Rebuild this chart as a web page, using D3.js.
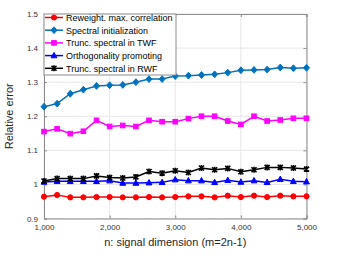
<!DOCTYPE html>
<html lang="en">
<head>
  <meta charset="UTF-8" />
  <title>Relative error vs signal dimension</title>
  <script src="https://d3js.org/d3.v7.min.js"></script>
  <style>
    body { margin: 0; background: #fff; }
    text { font-family: "Liberation Sans", Arial, sans-serif; }
  </style>
</head>
<body>
  <div id="chart"></div>
  <script>
    // ----- Data -----
    const nValues = [1000, 1200, 1400, 1600, 1800, 2000, 2200, 2400, 2600, 2800, 3000,
                     3200, 3400, 3600, 3800, 4000, 4200, 4400, 4600, 4800, 5000];

    const reweighted = [0.964, 0.969, 0.962, 0.962, 0.963, 0.963, 0.962, 0.962, 0.963, 0.962, 0.963,
                        0.965, 0.965, 0.962, 0.967, 0.963, 0.967, 0.963, 0.967, 0.965, 0.965];
    const spectral   = [1.228, 1.237, 1.266, 1.278, 1.289, 1.291, 1.292, 1.300, 1.309, 1.309, 1.318,
                        1.319, 1.321, 1.323, 1.328, 1.335, 1.336, 1.337, 1.343, 1.341, 1.342];
    const truncTWF   = [1.155, 1.163, 1.149, 1.156, 1.188, 1.170, 1.173, 1.170, 1.188, 1.184, 1.184,
                        1.193, 1.200, 1.200, 1.186, 1.176, 1.200, 1.186, 1.189, 1.194, 1.194];
    const orthogonal = [1.007, 1.009, 1.009, 1.009, 1.009, 1.011, 1.004, 1.004, 1.005, 1.006, 1.014,
                        1.011, 1.011, 1.006, 1.012, 1.007, 1.011, 1.006, 1.015, 1.009, 1.008];
    const truncRWF   = [1.010, 1.017, 1.017, 1.017, 1.025, 1.020, 1.019, 1.022, 1.038, 1.033, 1.040,
                        1.035, 1.048, 1.043, 1.047, 1.037, 1.043, 1.050, 1.050, 1.048, 1.045];

    const seriesNames = ["Reweight. max. correlation", "Spectral initialization",
                         "Trunc. spectral in TWF", "Orthogonality promoting", "Trunc. spectral in RWF"];
    const xTicks = [1000, 2000, 3000, 4000, 5000];
    const yTicks = [0.9, 1, 1.1, 1.2, 1.3, 1.4, 1.5];

    const series = [
      { name: seriesNames[0], values: reweighted, color: "#ff0000", marker: "circle" },
      { name: seriesNames[1], values: spectral,   color: "#0072bd", marker: "diamond" },
      { name: seriesNames[2], values: truncTWF,   color: "#ff00ff", marker: "square" },
      { name: seriesNames[3], values: orthogonal, color: "#0000ff", marker: "triangle" },
      { name: seriesNames[4], values: truncRWF,   color: "#000000", marker: "cross" }
    ];

    // ----- Setup -----
    const width = 339, height = 254;
    const margin = { top: 14, right: 32.5, bottom: 35.5, left: 44 };
    const iw = width - margin.left - margin.right;
    const ih = height - margin.top - margin.bottom;

    const svg = d3.select("#chart").append("svg")
      .attr("width", width).attr("height", height);
    const g = svg.append("g").attr("transform", `translate(${margin.left},${margin.top})`);

    const x = d3.scaleLinear().domain([1000, 5000]).range([0, iw]);
    const y = d3.scaleLinear().domain([0.9, 1.5]).range([ih, 0]);

    // ----- Grid -----
    g.append("g").selectAll("line").data(xTicks).join("line")
      .attr("x1", d => x(d)).attr("x2", d => x(d)).attr("y1", 0).attr("y2", ih)
      .attr("stroke", "#e6e6e6");
    g.append("g").selectAll("line").data(yTicks).join("line")
      .attr("x1", 0).attr("x2", iw).attr("y1", d => y(d)).attr("y2", d => y(d))
      .attr("stroke", "#e6e6e6");

    // ----- Axes -----
    const axisColor = "#8c8c8c";
    const xAxis = g.append("g").attr("transform", `translate(0,${ih})`)
      .call(d3.axisBottom(x).tickValues(xTicks).tickSize(-3).tickPadding(6).tickFormat(d3.format(",")));
    const yAxis = g.append("g")
      .call(d3.axisLeft(y).tickValues(yTicks).tickSize(-3).tickPadding(6).tickFormat(d => d));
    g.append("g").attr("transform", `translate(${iw},0)`)
      .call(d3.axisRight(y).tickValues(yTicks).tickSize(-3).tickFormat(""));
    g.append("g")
      .call(d3.axisTop(x).tickValues(xTicks).tickSize(-3).tickFormat(""));
    g.selectAll(".domain, .tick line").attr("stroke", axisColor);
    g.selectAll(".tick text").attr("fill", "#333").attr("font-size", "8px")
      .attr("font-family", "Liberation Sans, Arial, sans-serif");

    // ----- Axis labels -----
    svg.append("text")
      .attr("x", margin.left + iw / 2).attr("y", 246)
      .attr("text-anchor", "middle").attr("font-size", "11px").attr("fill", "#262626")
      .text("n: signal dimension (m=2n-1)");
    svg.append("text")
      .attr("transform", `translate(13,${margin.top + ih / 2}) rotate(-90)`)
      .attr("text-anchor", "middle").attr("font-size", "11px").attr("fill", "#262626")
      .text("Relative error");

    // ----- Markers -----
    function drawMarker(sel, type, color) {
      if (type === "circle") {
        sel.append("circle").attr("r", 2.6).attr("fill", color).attr("stroke", color);
      } else if (type === "diamond") {
        sel.append("path").attr("d", "M0,-3.4L3,0L0,3.4L-3,0Z").attr("fill", color).attr("stroke", color);
      } else if (type === "square") {
        sel.append("rect").attr("x", -2.3).attr("y", -2.3).attr("width", 4.6).attr("height", 4.6)
          .attr("fill", color).attr("stroke", color);
      } else if (type === "triangle") {
        sel.append("path").attr("d", "M0,-3.2L2.9,2.2L-2.9,2.2Z").attr("fill", color).attr("stroke", color);
      } else if (type === "cross") {
        sel.append("path").attr("d", "M-2.5,-2.5L2.5,2.5M-2.5,2.5L2.5,-2.5M0,-3V3")
          .attr("stroke", color).attr("stroke-width", 1.6).attr("fill", "none");
      }
    }

    // ----- Lines -----
    const line = d3.line().x((d, i) => x(nValues[i])).y(d => y(d));
    series.forEach(s => {
      g.append("path").datum(s.values)
        .attr("d", line).attr("fill", "none")
        .attr("stroke", s.color).attr("stroke-width", 1.5);
      g.append("g").selectAll("g").data(s.values).join("g")
        .attr("transform", (d, i) => `translate(${x(nValues[i])},${y(d)})`)
        .each(function () { drawMarker(d3.select(this), s.marker, s.color); });
    });

    // ----- Legend -----
    const legend = g.append("g");
    legend.append("rect")
      .attr("x", 0).attr("y", 0).attr("width", 132).attr("height", 61)
      .attr("fill", "#fff").attr("stroke", axisColor);
    series.forEach((s, i) => {
      const ly = 3.5 + i * 12.7;
      const row = legend.append("g").attr("transform", `translate(0,${ly})`);
      row.append("line").attr("x1", 1).attr("x2", 19).attr("y1", 0).attr("y2", 0)
        .attr("stroke", s.color).attr("stroke-width", 1.5);
      const m = row.append("g").attr("transform", "translate(10,0)");
      drawMarker(m, s.marker, s.color);
      row.append("text").attr("x", 22).attr("y", 3.3)
        .attr("font-size", "9px").attr("fill", "#000").text(s.name);
    });
  </script>
</body>
</html>
